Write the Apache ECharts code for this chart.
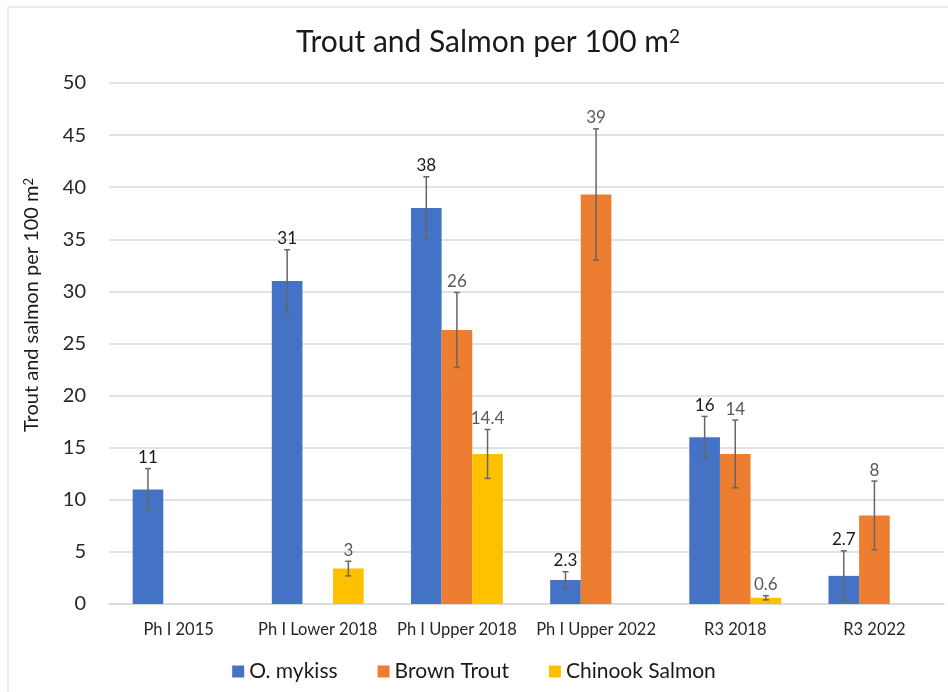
<!DOCTYPE html>
<html>
<head>
<meta charset="utf-8">
<script src="https://cdn.jsdelivr.net/npm/echarts@6/dist/echarts.min.js"></script>
<style>
  html, body { margin: 0; padding: 0; background: #fff; }
  #chart { width: 948px; height: 692px; }
</style>
</head>
<body>
<div id="chart"></div>
<script>
// categorías y datos
var sitios = ['Ph I 2015', 'Ph I Lower 2018', 'Ph I Upper 2018', 'Ph I Upper 2022', 'R3 2018', 'R3 2022'];
var especies = ['O. mykiss', 'Brown Trout', 'Chinook Salmon'];
var colores = ['#4472C4', '#ED7D31', '#FFC000'];

var mykiss = [11, 31, 38, 2.3, 16, 2.7];
var brownTrout = [null, null, 26.3, 39.3, 14.4, 8.5];
var chinook = [null, 3.4, 14.4, null, 0.6, null];

// error (+/-)
var errMykiss = [2, 3, 3, 0.8, 2, 2.4];
var errBrown = [null, null, 3.6, 6.3, 3.25, 3.3];
var errChinook = [null, 0.7, 2.35, null, 0.2, null];

// etiquetas tal como aparecen
var etqMykiss = ['11', '31', '38', '2.3', '16', '2.7'];
var etqBrown = [null, null, '26', '39', '14', '8'];
var etqChinook = [null, '3', '14.4', null, '0.6', null];

var yTicks = [0, 5, 10, 15, 20, 25, 30, 35, 40, 45, 50];

var valores = [mykiss, brownTrout, chinook];
var errores = [errMykiss, errBrown, errChinook];
var etiquetas = [etqMykiss, etqBrown, etqChinook];
var colorEtq = ['#1a1a1a', '#595959', '#595959'];

var fuente = 'Lato, "Noto Sans", sans-serif';
var hueco = 0.34;

// barras de error + etiqueta de cada serie
const serieError = (s) => {
    var datos = [];
    for (var i = 0; i < sitios.length; i++) {
        if (valores[s][i] == null) continue;
        datos.push([i, valores[s][i], errores[s][i], etiquetas[s][i]]);
    }
    return {
        type: 'custom',
        name: especies[s] + ' err',
        z: 5,
        silent: true,
        data: datos,
        renderItem: function (params, api) {
            var xi = api.value(0), v = api.value(1), e = api.value(2);
            var catW = api.size([1, 0])[0];
            var bw = catW * (1 - hueco) / 3;
            var cx = api.coord([xi, 0])[0] + (s - 1) * bw;
            var top = api.coord([xi, v + e])[1];
            var bot = api.coord([xi, Math.max(v - e, 0)])[1];
            var st = { stroke: '#666', lineWidth: 1.5 };
            return {
                type: 'group',
                children: [
                    { type: 'line', shape: { x1: cx, y1: top, x2: cx, y2: bot }, style: st },
                    { type: 'line', shape: { x1: cx - 3, y1: top, x2: cx + 3, y2: top }, style: st },
                    { type: 'line', shape: { x1: cx - 3, y1: bot, x2: cx + 3, y2: bot }, style: st },
                    { type: 'text', x: cx, y: top - 11,
                      style: { text: datos[params.dataIndex][3], fill: colorEtq[s], font: '17px ' + fuente,
                               align: 'center', verticalAlign: 'middle' } }
                ]
            };
        }
    };
};

const getOption = () => {
    var series = [];
    for (var s = 0; s < 3; s++) {
        series.push({
            name: especies[s],
            type: 'bar',
            data: valores[s],
            barGap: '0%',
            barCategoryGap: (hueco * 100) + '%',
            itemStyle: { color: colores[s] }
        });
    }
    for (var s = 0; s < 3; s++) series.push(serieError(s));

    return {
        animation: false,
        textStyle: { fontFamily: fuente },
        title: {
            text: '{a|Trout and Salmon per 100 m}{s|2}',
            left: 483,
            top: 22,
            textAlign: 'center',
            textStyle: {
                fontWeight: 'normal',
                rich: {
                    a: { fontSize: 30, fontWeight: 'normal', color: '#1a1a1a', fontFamily: fuente, verticalAlign: 'bottom' },
                    s: { fontSize: 19, fontWeight: 'normal', color: '#1a1a1a', fontFamily: fuente, verticalAlign: 'top' }
                }
            }
        },
        legend: {
            data: especies,
            left: 'center',
            top: 656,
            icon: 'rect',
            itemWidth: 12,
            itemHeight: 12,
            itemGap: 40,
            textStyle: { fontSize: 21, color: '#1a1a1a' }
        },
        grid: { left: 109, right: 4, top: 83, bottom: 88 },
        xAxis: {
            type: 'category',
            data: sitios,
            axisTick: { show: false },
            axisLine: { lineStyle: { color: '#d9d9d9', width: 1.5 } },
            axisLabel: { fontSize: 16.5, color: '#262626', margin: 17, interval: 0 }
        },
        yAxis: {
            type: 'value',
            min: yTicks[0],
            max: yTicks[yTicks.length - 1],
            interval: 5,
            axisLine: { show: false },
            axisTick: { show: false },
            splitLine: { lineStyle: { color: '#d9d9d9', width: 1.5 } },
            axisLabel: { fontSize: 20, color: '#262626', margin: 23 }
        },
        graphic: [
            { type: 'rect', shape: { x: 8, y: 7, width: 980, height: 720 },
              style: { fill: 'none', stroke: '#d9d9d9', lineWidth: 1 } },
            { type: 'text', x: 32, y: 305, rotation: Math.PI / 2,
              style: {
                  text: '{a|Trout and salmon per 100 m}{s|2}',
                  align: 'center', verticalAlign: 'middle',
                  rich: {
                      a: { fontSize: 20, fontFamily: fuente, fill: '#1a1a1a', verticalAlign: 'bottom' },
                      s: { fontSize: 13, fontFamily: fuente, fill: '#1a1a1a', verticalAlign: 'top' }
                  }
              } }
        ],
        series: series
    };
};

const chart = echarts.init(document.getElementById('chart'));
chart.setOption(getOption());
</script>
</body>
</html>
